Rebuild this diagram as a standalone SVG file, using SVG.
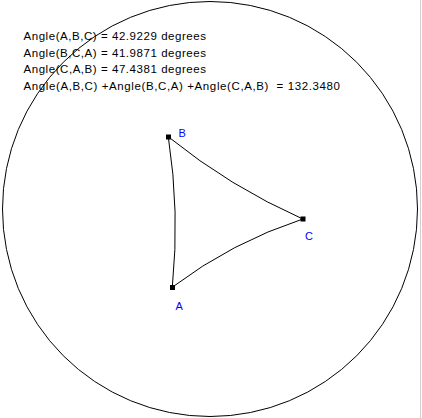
<svg xmlns="http://www.w3.org/2000/svg" width="422" height="418" viewBox="0 0 422 418">
<style>
.bg{fill:#ffffff}
.disk{fill:none;stroke:#000000;stroke-width:1}
.edge{fill:none;stroke:#000000;stroke-width:1}
.pt{fill:#000000}
.lbl{font-family:"Liberation Sans",Arial,sans-serif;font-size:11px;fill:#0000ff}
.info{font-family:"Liberation Sans",Arial,sans-serif;font-size:11.5px;fill:#000000;white-space:pre}
</style>
<rect class="bg" x="0" y="0" width="422" height="418"/>
<line x1="420.5" y1="0" x2="420.5" y2="418" stroke="#d0d0d0" stroke-width="1"/>
<circle class="disk" cx="210" cy="209" r="207.5"/>
<g id="info">
<text class="info" x="23.5" y="40" textLength="182.5" lengthAdjust="spacing">Angle(A,B,C) = 42.9229 degrees</text>
<text class="info" x="23.5" y="57" textLength="182.5" lengthAdjust="spacing">Angle(B,C,A) = 41.9871 degrees</text>
<text class="info" x="23.5" y="73" textLength="182.5" lengthAdjust="spacing">Angle(C,A,B) = 47.4381 degrees</text>
<text class="info" x="23.5" y="89.5" textLength="316.5" lengthAdjust="spacing">Angle(A,B,C) +Angle(B,C,A) +Angle(C,A,B)  = 132.3480</text>
</g>
<g id="connectors">
<path class="edge" d="M172.3,287.2 A597.4,597.4 0 0 0 168.3,136.8"/>
<path class="edge" d="M168.3,136.8 A602.9,602.9 0 0 0 302.8,219"/>
<path class="edge" d="M302.8,219 A447.5,447.5 0 0 0 172.3,287.2"/>
</g>
<g id="A">
<rect class="pt" x="170" y="285" width="5" height="5"/>
<text class="lbl" x="175.5" y="310">A</text>
</g>
<g id="B">
<rect class="pt" x="166" y="134.5" width="5" height="5"/>
<text class="lbl" x="178.5" y="137">B</text>
</g>
<g id="C">
<rect class="pt" x="300.5" y="216.5" width="5" height="5"/>
<text class="lbl" x="305" y="239.5">C</text>
</g>
</svg>
